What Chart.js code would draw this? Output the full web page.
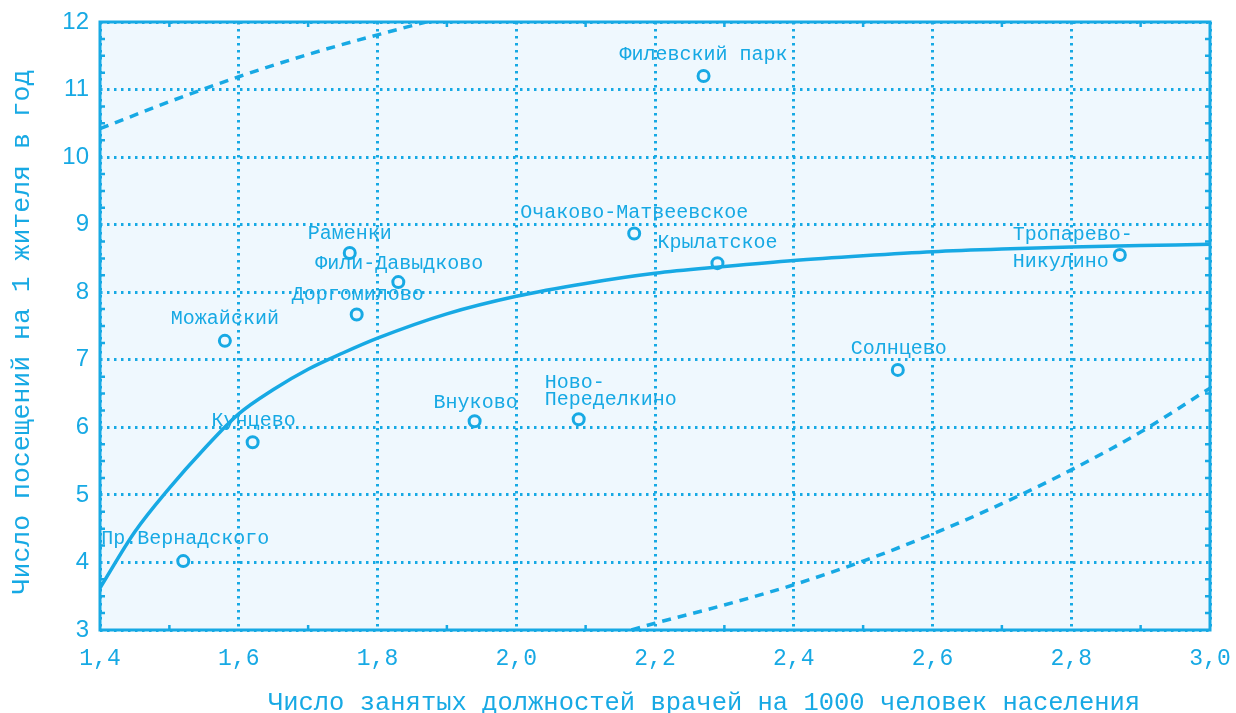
<!DOCTYPE html>
<html>
<head>
<meta charset="utf-8">
<script src="https://cdn.jsdelivr.net/npm/chart.js@4.4.1/dist/chart.umd.min.js"></script>
<style>
  html, body { margin: 0; background: #fff; }
  #wrap { width: 1236px; height: 713px; position: relative; }
</style>
</head>
<body>
<div id="wrap"><canvas id="chart"></canvas></div>
<script>
// districts (x: doctors per 1000, y: visits per resident)
const districtNames = [
    'Пр.Вернадского', 'Кунцево', 'Можайский', 'Доргомилово', 'Раменки',
    'Фили-Давыдково', 'Внуково', ['Ново-', 'Переделкино'], 'Очаково-Матвеевское',
    'Крылатское', 'Филевский парк', 'Солнцево', ['Тропарево-', 'Никулино'],
];
const districtX = [1.52, 1.62, 1.58, 1.77, 1.76, 1.83, 1.94, 2.09, 2.17, 2.29, 2.27, 2.55, 2.87];
const districtY = [4.02, 5.78, 7.28, 7.67, 8.58, 8.15, 6.09, 6.12, 8.87, 8.43, 11.2, 6.85, 8.55];

// fitted curve and the two dashed bounds
const fitX = [1.4, 1.45, 1.5, 1.55, 1.6, 1.65, 1.7, 1.75, 1.8, 1.9, 2.0, 2.1, 2.2, 2.3, 2.4, 2.5, 2.6, 2.7, 2.8, 2.9, 3.0];
const fitY = [3.62, 4.45, 5.1, 5.68, 6.2, 6.56, 6.86, 7.1, 7.32, 7.68, 7.94, 8.13, 8.28, 8.38, 8.47, 8.54, 8.6, 8.64, 8.67, 8.69, 8.71];
const upperX = [1.4, 1.5, 1.6, 1.7, 1.8, 1.9];
const upperY = [10.42, 10.82, 11.19, 11.52, 11.81, 12.08];
const lowerX = [2.166, 2.2, 2.3, 2.4, 2.5, 2.6, 2.7, 2.8, 2.9, 3.0];
const lowerY = [3.0, 3.1, 3.37, 3.67, 4.02, 4.42, 4.87, 5.37, 5.93, 6.58];

const xRange = [1.4, 3.0];
const xStep = 0.2;
const yRange = [3, 12];
const yStep = 1;
const xTitle = 'Число занятых должностей врачей на 1000 человек населения';
const yTitle = 'Число посещений на 1 жителя в год';

const BLUE = '#17a9e4';
const PLOT_BG = '#eff8fe';

// where each label sits relative to its point (px)
const labelPlace = [
    { dx: 2, dy: -22 }, { dx: 1, dy: -21 }, { dx: 0, dy: -22 }, { dx: 1, dy: -20 },
    { dx: 0, dy: -19 }, { dx: 1, dy: -18 }, { dx: 1, dy: -19 },
    { dx: -34, dy: -37, align: 'left', lh: 17 },
    { dx: 0, dy: -21 }, { dx: 0, dy: -20 }, { dx: 0, dy: -21 }, { dx: 1, dy: -21 },
    { dx: -107, dy: -20, align: 'left', lh: 27 },
];

const toXY = (xs, ys) => xs.map((v, i) => ({ x: v, y: ys[i] }));

const decor = {
    id: 'decor',
    beforeDraw(chart) {
        const { ctx, chartArea: a } = chart;
        ctx.save();
        ctx.fillStyle = PLOT_BG;
        ctx.fillRect(a.left, a.top, a.right - a.left, a.bottom - a.top);
        ctx.restore();
    },
    afterDraw(chart) {
        const { ctx, chartArea: a } = chart;
        const x = chart.scales.x;
        const y = chart.scales.y;
        ctx.save();
        ctx.strokeStyle = BLUE;
        ctx.lineWidth = 2.5;
        ctx.beginPath();
        for (let i = 15; i < 30; i += 2) {
            const px = x.getPixelForValue(i / 10);
            ctx.moveTo(px, a.bottom); ctx.lineTo(px, a.bottom - 5);
            ctx.moveTo(px, a.top); ctx.lineTo(px, a.top + 5);
        }
        for (let i = 13; i < 48; i++) {
            if (i % 4 === 0) continue;
            const py = y.getPixelForValue(i / 4);
            ctx.moveTo(a.left, py); ctx.lineTo(a.left + 5, py);
            ctx.moveTo(a.right, py); ctx.lineTo(a.right - 5, py);
        }
        ctx.stroke();
        ctx.lineWidth = 3;
        ctx.strokeRect(a.left, a.top, a.right - a.left, a.bottom - a.top);

        // point labels
        ctx.fillStyle = BLUE;
        ctx.font = '20px "Liberation Mono", monospace';
        ctx.textBaseline = 'middle';
        districtNames.forEach((name, i) => {
            const p = labelPlace[i];
            const px = x.getPixelForValue(districtX[i]) + p.dx;
            const py = y.getPixelForValue(districtY[i]) + p.dy;
            ctx.textAlign = p.align || 'center';
            [].concat(name).forEach((line, k) => {
                ctx.fillText(line, px, py + k * (p.lh || 0));
            });
        });

        // axis titles
        ctx.font = '25.5px "Liberation Mono", monospace';
        ctx.textAlign = 'center';
        ctx.fillText(xTitle, (a.left + a.right) / 2 + 49, 703);
        ctx.font = '26.5px "Liberation Mono", monospace';
        ctx.translate(22, (a.top + a.bottom) / 2 + 6);
        ctx.rotate(-Math.PI / 2);
        ctx.fillText(yTitle, 0, 0);
        ctx.restore();
    },
};

const fmt = (v) => Number(v).toFixed(1).replace('.', ',');

new Chart(document.getElementById('chart'), {
    type: 'scatter',
    data: {
        datasets: [
            {
                label: 'fit',
                type: 'line',
                data: toXY(fitX, fitY),
                borderColor: BLUE,
                borderWidth: 3.5,
                pointRadius: 0,
                cubicInterpolationMode: 'monotone',
                fill: false,
            },
            {
                label: 'upper',
                type: 'line',
                data: toXY(upperX, upperY),
                borderColor: BLUE,
                borderWidth: 3.5,
                borderDash: [9, 7],
                pointRadius: 0,
                cubicInterpolationMode: 'monotone',
                fill: false,
            },
            {
                label: 'lower',
                type: 'line',
                data: toXY(lowerX, lowerY),
                borderColor: BLUE,
                borderWidth: 3.5,
                borderDash: [9, 7],
                pointRadius: 0,
                cubicInterpolationMode: 'monotone',
                fill: false,
            },
            {
                label: 'districts',
                data: toXY(districtX, districtY),
                borderColor: BLUE,
                backgroundColor: PLOT_BG,
                borderWidth: 3,
                pointRadius: 5.5,
                showLine: false,
            },
        ],
    },
    options: {
        responsive: true,
        maintainAspectRatio: false,
        animation: false,
        layout: { padding: { top: 22, right: 26, left: 0, bottom: 0 } },
        plugins: {
            legend: { display: false },
            tooltip: { enabled: false },
        },
        scales: {
            x: {
                type: 'linear',
                min: xRange[0],
                max: xRange[1],
                afterFit: (s) => { s.height = 83; s.paddingLeft = 0; s.paddingRight = 0; },
                ticks: {
                    stepSize: xStep,
                    color: BLUE,
                    padding: 15,
                    font: { family: '"Liberation Mono", monospace', size: 23 },
                    callback: (v) => fmt(v),
                },
                grid: { color: BLUE, lineWidth: 3, drawTicks: false },
                border: { display: false, dash: [2.5, 4.5] },
            },
            y: {
                type: 'linear',
                min: yRange[0],
                max: yRange[1],
                afterFit: (s) => { s.width = 100; s.paddingTop = 0; s.paddingBottom = 0; },
                ticks: {
                    stepSize: yStep,
                    color: BLUE,
                    padding: 11,
                    font: { family: '"Liberation Sans", sans-serif', size: 24 },
                },
                grid: { color: BLUE, lineWidth: 3, drawTicks: false },
                border: { display: false, dash: [2.5, 4.5] },
            },
        },
    },
    plugins: [decor],
});
</script>
</body>
</html>
